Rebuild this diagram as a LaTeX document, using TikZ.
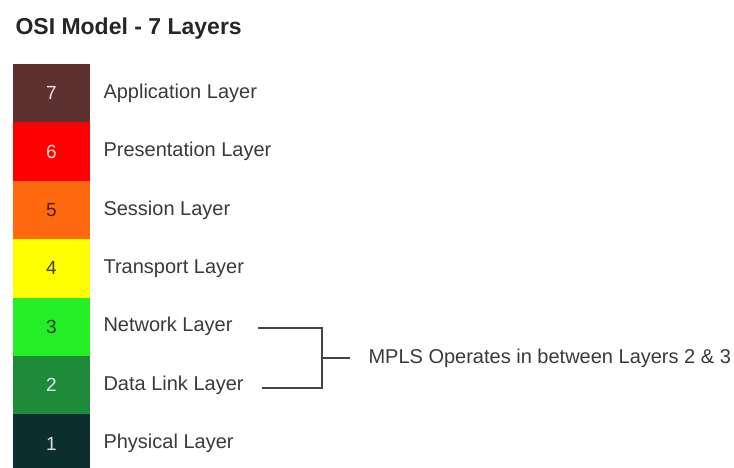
\documentclass[tikz,border=0pt]{standalone}
\usepackage{fontspec}
\setmainfont{Liberation Sans}
\usetikzlibrary{positioning}
\definecolor{app}{HTML}{5E3131}
\definecolor{pres}{HTML}{FF0000}
\definecolor{sess}{HTML}{FF6A10}
\definecolor{trans}{HTML}{FFFF00}
\definecolor{netw}{HTML}{26EE26}
\definecolor{datal}{HTML}{1E8B3B}
\definecolor{phys}{HTML}{0B2F2F}
\definecolor{labelgray}{HTML}{3A3A3A}
\definecolor{linegray}{HTML}{444444}

\begin{document}
\begin{tikzpicture}[x=1pt,y=-1pt,
  layer/.style={rectangle,inner sep=0pt,minimum width=77pt,minimum height=58.4pt,font=\fontsize{19}{22}\selectfont},
  layername/.style={anchor=west,text=labelgray,font=\fontsize{20}{24}\selectfont},
  link/.style={draw=linegray,line width=1.6pt}]
\fill[white] (0,0) rectangle (734,468);
\useasboundingbox (0,0) rectangle (734,468);

\node[anchor=west,text=black!85,font=\bfseries\fontsize{23}{26}\selectfont] at (12,28.5) (title) {OSI Model - 7 Layers};

\node[layer,fill=app,text=white!85!app] at (51.5,93.2) (7) {7};
\node[layer,fill=pres,text=white!85!pres] at (51.5,151.6) (6) {6};
\node[layer,fill=sess,text=black!70!sess] at (51.5,210.0) (5) {5};
\node[layer,fill=trans,text=black!75!trans] at (51.5,268.4) (4) {4};
\node[layer,fill=netw,text=black!70!netw] at (51.5,326.8) (3) {3};
\node[layer,fill=datal,text=white!85!datal] at (51.5,385.2) (2) {2};
\node[layer,fill=phys,text=white!85!phys] at (51.5,443.6) (1) {1};

\node[layername] at (100,93.2) (l7) {Application Layer};
\node[layername] at (100,151.6) (l6) {Presentation Layer};
\node[layername] at (100,210.0) (l5) {Session Layer};
\node[layername] at (100,268.4) (l4) {Transport Layer};
\node[layername] at (100,326.8) (l3) {Network Layer};
\node[layername] at (100,385.2) (l2) {Data Link Layer};
\node[layername] at (100,443.6) (l1) {Physical Layer};

\coordinate (n3) at (258,328);
\coordinate (n2) at (262,388);
\coordinate (nk) at (322,358);
\node[layername] at (365,358) (mpls) {MPLS Operates in between Layers 2 \& 3};

\draw[link] (n3) -| (nk) |- (n2);
\draw[link] (nk) -- ([xshift=-15pt]mpls.west);
\end{tikzpicture}
\end{document}
